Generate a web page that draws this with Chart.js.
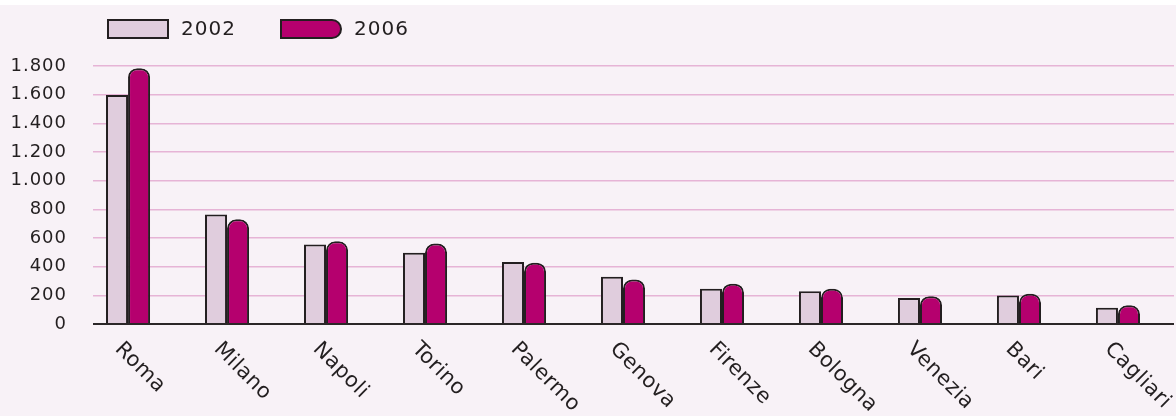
<!DOCTYPE html>
<html>
<head>
<meta charset="utf-8">
<script src="https://cdn.jsdelivr.net/npm/chart.js@4"></script>
<style>
  html, body { margin: 0; padding: 0; background: #ffffff; }
  #wrap { width: 1176px; height: 416px; position: relative; }
</style>
</head>
<body>
<div id="wrap"><canvas id="c" width="1176" height="416"></canvas></div>
<script>
const categories = ['Roma', 'Milano', 'Napoli', 'Torino', 'Palermo', 'Genova', 'Firenze', 'Bologna', 'Venezia', 'Bari', 'Cagliari'];
const values2002 = [1598, 764, 555, 497, 432, 330, 246, 229, 181, 199, 113];
const values2006 = [1785, 730, 577, 561, 428, 311, 281, 246, 194, 211, 130];
const seriesLabels = ['2002', '2006'];
const yTickLabels = ['0', '200', '400', '600', '800', '1.000', '1.200', '1.400', '1.600', '1.800'];

const TEXT = '#231f20';
const FONT = '"DejaVu Sans", sans-serif';
const C2002 = '#e0cddd';
const C2006 = '#b5006e';
const GRID = '#e6b4d6';

const bgPlugin = {
  id: 'bg',
  beforeDraw(chart) {
    const ctx = chart.ctx;
    ctx.save();
    ctx.fillStyle = '#ffffff';
    ctx.fillRect(0, 0, chart.width, chart.height);
    ctx.fillStyle = '#f8f2f7';
    ctx.fillRect(0, 5, chart.width, chart.height - 5);
    ctx.restore();
    // wider letter spacing for the axis tick text drawn by Chart.js
    ctx.letterSpacing = '1px';
  },
  afterDraw(chart) {
    chart.ctx.letterSpacing = '0px';
  }
};

const labelPlugin = {
  id: 'xlabels',
  afterDraw(chart) {
    const ctx = chart.ctx;
    const xs = chart.scales.x;
    const bottom = chart.chartArea.bottom;
    ctx.save();
    ctx.fillStyle = TEXT;
    ctx.font = '21px ' + FONT;
    ctx.letterSpacing = '0.5px';
    ctx.textAlign = 'left';
    ctx.textBaseline = 'middle';
    categories.forEach((name, i) => {
      const x = xs.getPixelForValue(i);
      ctx.save();
      ctx.translate(x - 10, bottom + 22);
      ctx.rotate(Math.PI / 4);
      ctx.fillText(name, 0, 0);
      ctx.restore();
    });
    ctx.restore();
  }
};

const legendPlugin = {
  id: 'customLegend',
  afterDraw(chart) {
    const ctx = chart.ctx;
    ctx.save();
    ctx.lineWidth = 2;
    ctx.strokeStyle = TEXT;
    // 2002 box
    ctx.fillStyle = C2002;
    ctx.fillRect(108, 20, 60, 18);
    ctx.strokeRect(108, 20, 60, 18);
    // 2006 box, rounded right end
    ctx.fillStyle = C2006;
    ctx.beginPath();
    ctx.moveTo(281, 20);
    ctx.lineTo(332, 20);
    ctx.arcTo(341, 20, 341, 29, 9);
    ctx.arcTo(341, 38, 332, 38, 9);
    ctx.lineTo(281, 38);
    ctx.closePath();
    ctx.fill();
    ctx.stroke();
    ctx.fillStyle = TEXT;
    ctx.font = '20px ' + FONT;
    ctx.letterSpacing = '1px';
    ctx.textAlign = 'left';
    ctx.textBaseline = 'middle';
    ctx.fillText(seriesLabels[0], 181, 30);
    ctx.fillText(seriesLabels[1], 354, 30);
    ctx.restore();
  }
};

const toPoints = arr => arr.map((v, i) => ({ x: i, y: v }));

new Chart(document.getElementById('c'), {
  type: 'bar',
  data: {
    datasets: [
      {
        label: seriesLabels[0],
        data: toPoints(values2002),
        backgroundColor: C2002,
        borderColor: TEXT,
        borderWidth: 2,
        borderSkipped: 'start',
        categoryPercentage: 0.445,
        barPercentage: 1.0
      },
      {
        label: seriesLabels[1],
        data: toPoints(values2006),
        backgroundColor: C2006,
        borderColor: TEXT,
        borderWidth: 2,
        borderSkipped: 'start',
        borderRadius: { topLeft: 9, topRight: 9, bottomLeft: 0, bottomRight: 0 },
        categoryPercentage: 0.445,
        barPercentage: 1.0
      }
    ]
  },
  options: {
    responsive: false,
    animation: false,
    devicePixelRatio: 1,
    layout: { padding: { top: 66, right: 2, left: 0, bottom: 0 } },
    plugins: {
      legend: { display: false },
      tooltip: { enabled: false },
      title: { display: false }
    },
    scales: {
      x: {
        type: 'linear',
        min: -0.354,
        max: 10.566,
        offset: false,
        grid: { display: false, drawTicks: false },
        border: { display: false },
        ticks: { display: false, stepSize: 1 },
        afterFit(scale) { scale.height = 92; }
      },
      y: {
        min: 0,
        max: 1800,
        grid: {
          drawTicks: false,
          color: ctx => (ctx.tick && ctx.tick.value === 0 ? '#2b2728' : GRID),
          lineWidth: ctx => (ctx.tick && ctx.tick.value === 0 ? 2 : 1.6)
        },
        border: { display: false },
        ticks: {
          stepSize: 200,
          padding: 26,
          color: TEXT,
          font: { family: FONT, size: 18 },
          callback: (v, i) => yTickLabels[i]
        },
        afterFit(scale) { scale.width = 93; }
      }
    }
  },
  plugins: [bgPlugin, labelPlugin, legendPlugin]
});
</script>
</body>
</html>
